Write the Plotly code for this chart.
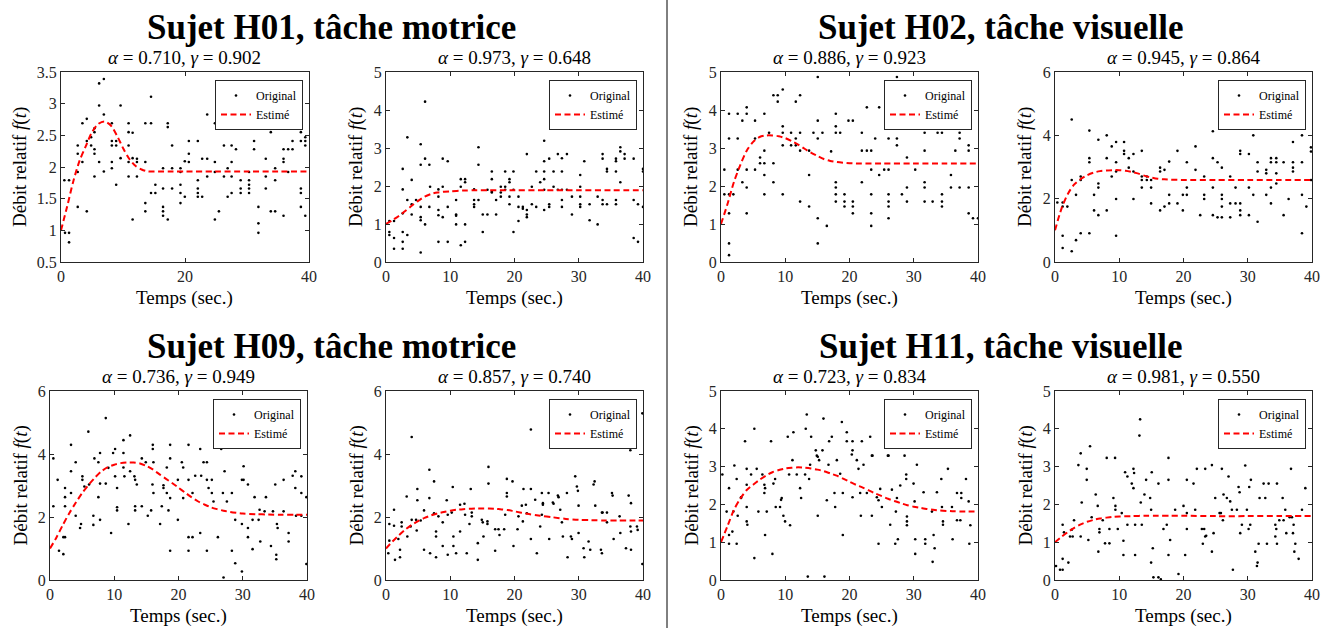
import plotly.graph_objects as go

W, H = 1321, 628
FONT = "Liberation Serif"

# ---------------- data ----------------
group_titles = ["Sujet H01, tâche motrice", "Sujet H02, tâche visuelle",
                "Sujet H09, tâche motrice", "Sujet H11, tâche visuelle"]
alphas = [0.710, 0.973, 0.886, 0.945, 0.736, 0.857, 0.723, 0.981]
gammas = [0.902, 0.648, 0.923, 0.864, 0.949, 0.740, 0.834, 0.550]

pts1 = [(0.54,1.79),(1.30,1.79),(0.65,0.96),(1.30,0.96),(1.30,0.81),
(2.70,1.92),(2.70,2.21),(2.70,2.34),(2.70,1.37),(3.45,2.69),(3.45,2.08),
(4.16,2.76),(4.16,2.41),(4.16,1.30),(4.86,2.47),(4.86,2.34),
(5.40,2.55),(5.40,2.61),(5.40,2.28),(5.40,2.21),(5.40,1.85),
(6.15,3.32),(6.15,2.97),(6.15,2.08),(6.91,3.39),(6.91,2.83),(6.91,1.93),
(8.20,2.69),(8.20,2.41),(8.20,2.34),(8.20,2.08),(8.20,1.98),
(8.90,2.41),(8.90,2.34),(8.90,1.72),(9.61,2.97),(9.61,2.14),
(10.90,2.69),(10.90,2.34),(10.90,2.55),(10.90,2.08),(10.90,1.85),
(11.55,2.54),(11.55,2.14),(11.55,1.17),(12.25,2.13),(12.25,1.85),(12.25,2.08),
(13.60,2.69),(13.60,2.08),(13.60,1.43),(13.60,1.30),(14.52,3.11),(14.52,2.69),(14.52,1.59),
(15.22,1.72),(15.22,1.59),(16.46,1.98),(16.46,1.37),(16.46,1.30),(16.46,1.23),(16.46,1.66),
(17.22,2.69),(17.22,2.63),(17.22,1.17),(17.92,2.34),(17.92,1.98),(17.92,1.66),
(19.27,1.98),(19.27,1.92),(19.27,1.72),(19.27,1.43),(19.27,1.59),(19.97,2.09),(19.97,1.53),
(20.62,2.41),(20.62,2.08),(20.62,2.21),(22.07,2.41),(22.07,1.79),(22.07,1.66),(22.07,1.59),(22.07,1.53),
(22.77,2.13),(22.77,1.53),(23.58,2.83),(23.58,2.13),(23.58,1.85),
(24.82,2.69),(24.82,2.08),(24.82,1.92),(24.82,1.17),(25.47,2.69),(25.47,1.30),
(26.28,2.34),(26.28,1.85),(26.88,1.98),(26.88,1.53),
(27.52,2.34),(27.52,2.08),(27.52,1.85),(27.52,1.59),(28.22,2.83),(28.22,2.28),
(28.98,1.79),(28.98,1.66),(28.98,1.59),
(30.33,1.92),(30.33,1.79),(30.33,1.72),(30.33,1.66),(30.33,1.59),
(31.14,2.62),(31.14,2.41),(31.14,2.28),(31.84,1.37),(31.84,1.11),(31.84,0.96),
(33.03,2.13),(33.03,1.85),(33.03,1.66),(33.84,2.69),(33.84,2.55),(33.84,1.30),
(34.54,1.98),(34.54,1.79),(34.54,1.30),(35.89,2.28),(35.89,2.13),(35.89,2.08),(35.89,1.23),
(36.64,2.28),(36.64,1.92),(37.34,2.41),(37.34,2.28),
(38.69,2.55),(38.69,2.41),(38.69,1.66),(38.69,1.59),(38.69,1.37),
(39.40,2.47),(39.40,2.41),(39.40,2.34),(39.40,1.23)]
curve_t1 = [0,1,2,3,4,5,6,7,8,9,10,11,12,13,14,15,16,18,20,25,30,35,40]
curve_f1 = [1.0,1.38,1.78,2.1,2.33,2.55,2.68,2.72,2.66,2.5,2.3,2.13,2.02,1.96,1.93,1.93,1.93,1.93,1.93,1.93,1.93,1.93,1.93]

pts2 = [(0.52,1.08),(0.52,0.79),(0.52,0.71),(1.25,1.08),(1.25,0.63),(1.25,0.35),
(2.60,2.45),(2.60,1.91),(2.60,1.28),(2.60,0.79),(2.60,0.53),(2.60,0.35),
(3.32,3.28),(3.32,1.63),(3.32,0.71),(4.0,2.16),(4.0,1.52),(4.0,1.25),(4.68,1.63),
(5.40,3.10),(5.40,2.56),(5.40,1.45),(5.40,1.18),(5.40,1.10),(5.40,0.25),
(6.08,4.22),(6.08,2.72),(6.08,0.99),(6.75,2.56),(6.75,1.45),(6.86,1.98),
(8.16,1.91),(8.16,1.72),(8.16,1.37),(8.16,1.23),(8.16,0.53),(8.83,2.72),(8.83,1.98),(8.83,1.18),
(9.61,2.65),(9.61,1.45),(9.61,0.53),(10.91,1.63),(10.91,1.25),(10.91,1.22),(10.91,0.99),
(11.64,2.18),(11.64,1.98),(11.64,0.44),(12.31,2.18),(12.31,2.10),(12.31,0.99),(12.31,0.53),
(13.71,1.91),(13.71,1.63),(13.71,1.52),(13.71,1.45),(14.39,3.02),(14.39,2.56),(14.39,1.63),
(15.06,1.25),(15.06,0.79),(15.79,1.25),(15.79,1.90),
(16.47,2.38),(16.47,2.18),(16.47,1.85),(16.47,1.83),(17.14,1.63),(17.14,1.25),
(17.87,1.98),(17.87,1.83),(17.87,1.72),(18.55,2.38),(18.55,1.98),(18.55,1.90),
(19.22,2.18),(19.22,2.10),(19.22,1.72),(19.22,1.52),(19.84,2.38),(19.84,1.90),(19.84,0.79),
(20.62,1.72),(20.62,1.45),(20.62,1.08),(21.30,1.45),(21.30,1.40),
(21.92,2.84),(21.92,1.37),(21.92,1.25),(21.92,1.18),(22.70,1.98),(22.70,1.52),
(23.38,2.38),(23.38,1.45),(24.0,2.10),
(24.62,3.19),(24.62,2.65),(24.62,2.38),(24.62,2.18),(24.62,1.90),(24.62,1.37),
(25.40,2.72),(25.40,1.52),(25.40,1.45),(26.08,2.38),(26.08,1.98),(26.75,2.84),(26.75,1.90),
(27.38,2.73),(27.38,2.38),(27.38,1.90),(27.38,1.63),(27.38,1.45),(28.16,2.84),(28.16,1.90),
(28.94,1.72),(28.94,1.25),(30.23,2.29),(30.23,1.98),(30.23,1.72),(30.23,1.52),(30.23,1.45),
(30.86,2.65),(31.69,1.52),(31.69,1.10),(32.94,1.72),(32.94,0.99),
(33.71,2.84),(33.71,2.72),(33.71,1.63),(33.71,1.52),(34.39,2.45),(34.39,2.38),(34.39,1.52),
(35.79,2.72),(35.79,2.65),(35.79,2.38),(35.79,1.63),(35.79,1.52),
(36.47,3.02),(36.47,2.91),(36.47,2.10),(37.14,2.84),(37.14,2.72),
(38.55,2.72),(38.55,1.63),(38.55,0.63),(39.22,1.52),(39.22,0.53),
(40.0,2.45),(40.0,2.38),(40.0,1.45)]
curve_t2 = [0,1,2,3,4,5,6,7,8,10,12,14,16,20,25,30,35,40]
curve_f2 = [1.0,1.1,1.21,1.34,1.48,1.61,1.72,1.79,1.83,1.86,1.88,1.89,1.89,1.89,1.89,1.89,1.89,1.89]

pts3 = [(0.52,2.43),(0.52,1.78),(1.25,3.90),(1.25,3.25),(1.25,1.78),(1.25,1.28),(1.25,0.49),(1.25,0.18),
(1.92,1.78),(2.60,3.90),(2.60,3.25),(2.60,2.43),(3.32,3.72),(3.32,2.10),
(4.0,4.07),(4.0,3.90),(4.0,2.43),(4.0,1.96),(4.0,1.28),(5.30,3.72),(5.30,3.25),(5.30,2.43),
(6.08,2.75),(6.08,2.60),(6.75,3.90),(6.75,2.93),(6.75,2.60),(6.75,2.29),(6.75,1.78),
(7.48,3.40),(8.16,2.60),(8.16,2.10),(8.16,4.39),(8.83,4.39),(8.83,4.22),(9.61,4.54),
(9.61,3.57),(9.61,3.40),(9.61,3.07),(9.61,1.78),(10.91,3.40),(10.91,3.07),
(11.64,4.22),(12.31,4.39),(11.64,3.25),(11.64,3.07),(12.31,3.40),(12.31,2.93),(12.31,1.59),
(13.71,2.93),(13.71,2.29),(13.71,1.46),(14.39,3.40),
(15.06,4.87),(15.06,3.72),(15.06,3.25),(15.06,1.15),(15.06,0.49),(15.79,3.40),(16.47,0.95),(17.14,2.91),
(17.87,3.90),(17.87,3.57),(17.87,3.40),(17.87,2.10),(17.87,1.96),(17.87,1.78),(17.87,1.59),
(18.55,3.40),(19.22,1.78),(19.22,1.59),(19.22,1.46),(19.84,3.72),
(20.52,3.72),(20.52,1.59),(20.52,1.46),(20.52,1.28),(21.92,3.40),(21.92,2.93),(21.92,2.10),
(22.70,4.07),(22.70,2.93),(23.38,2.93),(23.38,2.43),(23.38,1.78),(23.38,1.28),(23.38,0.95),
(24.0,3.25),(24.62,4.07),(24.62,2.29),(25.40,2.43),
(26.08,3.25),(26.08,2.43),(26.08,1.78),(26.08,1.59),(26.08,1.46),(26.08,1.15),
(27.38,4.87),(27.38,3.25),(27.38,3.07),(28.16,1.78),(28.94,2.75),(28.94,1.96),(28.94,1.59),
(30.23,3.57),(30.23,2.43),(30.86,3.57),
(31.69,3.57),(31.69,3.40),(31.69,2.93),(31.69,2.10),(31.69,1.96),(31.69,1.59),
(32.94,3.72),(32.94,1.59),(33.71,3.57),(33.71,3.40),
(34.39,3.40),(34.39,1.78),(34.39,1.59),(34.39,1.46),(35.79,2.29),(35.79,1.96),
(36.47,3.90),(36.47,2.93),(37.14,3.40),(37.14,3.25),(37.14,1.96),
(38.55,3.90),(38.55,3.07),(38.55,2.93),(38.55,1.96),(38.55,1.28),(39.22,1.15),(40.0,1.15)]
curve_t3 = [0,1,2,3,4,5,6,7,8,9,10,11,12,13,14,15,16,17,18,20,25,30,35,40]
curve_f3 = [1.0,1.52,2.1,2.55,2.93,3.16,3.29,3.33,3.33,3.31,3.26,3.18,3.09,2.98,2.88,2.79,2.71,2.66,2.63,2.6,2.59,2.59,2.59,2.59]

pts4 = [(0.36,1.88),(1.19,1.88),(1.19,1.75),(1.19,0.83),(1.19,0.44),(1.92,1.75),
(2.60,4.50),(2.60,2.59),(2.60,0.34),(3.27,2.12),(3.27,0.69),(4.0,2.70),(4.0,2.59),(4.0,0.91),
(5.35,4.15),(5.35,3.28),(5.35,3.15),(5.35,0.91),(6.08,2.12),(6.08,1.63),
(6.75,3.86),(6.75,2.48),(6.75,2.35),(6.75,1.48),(8.05,4.0),(8.05,3.28),(8.05,1.63),
(8.83,3.65),(8.83,2.70),(9.51,3.79),(9.51,3.15),(9.51,2.86),(9.51,1.99),(9.51,0.83),
(10.75,3.79),(10.75,3.51),(10.75,3.41),(11.48,3.28),(11.48,2.98),(12.21,3.41),(12.21,2.86),(12.21,1.99),
(13.51,3.51),(13.51,2.70),(13.51,2.59),(13.51,2.35),(14.29,2.70),(14.29,2.59),
(14.96,2.59),(14.96,2.35),(14.96,1.85),(16.36,2.98),(16.36,2.86),(16.36,1.63),
(17.04,2.91),(17.04,1.75),(17.77,3.17),(17.77,2.12),(17.77,1.85),(19.06,3.51),(19.06,1.85),
(19.90,2.12),(19.90,1.63),(20.52,3.15),(20.52,2.35),(20.52,2.12),(21.87,3.65),(21.87,2.91),
(22.60,1.48),(23.22,2.70),(23.22,2.12),(23.22,1.99),
(24.57,4.13),(24.57,3.28),(24.57,2.35),(24.57,1.48),(25.30,3.15),(25.30,1.41),
(25.97,2.98),(25.97,2.12),(25.97,1.99),(25.97,1.75),(25.97,1.41),(27.27,2.70),(27.27,1.85),(27.27,1.41),
(28.10,2.35),(28.10,1.85),(28.83,3.51),(28.83,3.41),(28.83,1.63),(28.83,1.48),(28.83,1.85),
(30.18,3.41),(30.18,2.35),(30.18,1.48),(30.86,4.0),(30.86,2.12),(31.53,3.15),(31.53,2.86),(31.53,1.27),
(32.88,2.91),(32.88,2.80),(32.88,2.12),(33.61,4.71),(33.61,3.28),(33.61,3.15),(33.61,2.35),(33.61,1.85),
(34.44,3.28),(34.44,3.15),(34.44,2.80),(34.44,2.48),(35.58,3.15),(35.58,1.48),(36.36,1.99),
(37.04,3.79),(37.04,3.15),(37.04,2.98),(37.04,2.86),(38.44,4.0),(38.44,3.15),(38.44,0.91),(38.44,2.12),
(39.12,1.75),(39.84,3.62),(39.84,3.49),(39.84,2.59)]
curve_t4 = [0,1,2,3,4,5,6,7,8,9,10,11,12,13,14,15,16,17,18,20,25,30,35,40]
curve_f4 = [1.0,1.68,2.15,2.45,2.62,2.74,2.82,2.87,2.89,2.9,2.9,2.88,2.84,2.79,2.72,2.67,2.63,2.61,2.6,2.59,2.59,2.59,2.59,2.59]

pts5 = [(0.52,3.86),(0.52,2.34),(1.19,3.18),(1.40,0.93),(2.08,0.82),(2.08,1.36),(2.34,1.36),(2.34,2.63),(2.34,2.92),(2.34,2.34),
(3.27,4.29),(3.27,3.45),(3.27,2.76),(4.0,3.74),(4.0,2.04),(4.68,1.65),(4.83,1.78),(5.04,3.29),(5.04,3.18),(5.35,2.97),
(5.97,4.71),(6.08,3.03),(6.75,1.75),(6.75,2.04),(6.91,3.86),(7.53,3.74),(7.53,2.63),(7.79,4.03),(7.79,1.91),(7.79,3.06),
(8.68,5.14),(8.68,3.06),(9.09,3.56),(9.51,1.49),(9.82,4.03),(10.13,4.16),(10.13,3.29),
(10.44,2.31),(10.44,2.21),(10.44,2.92),(11.43,4.44),(11.43,4.03),(11.43,3.57),(11.58,3.29),(12.21,1.78),
(12.47,4.59),(12.47,3.45),(13.14,3.29),(13.25,3.18),(13.25,2.34),(13.25,2.21),(13.51,3.03),
(14.29,3.86),(14.29,2.34),(14.91,3.74),(15.22,2.04),(15.74,2.21),(15.95,3.03),(16.0,4.29),(16.0,4.16),(16.10,3.74),
(16.10,2.76),(17.14,1.78),(17.40,2.34),(17.66,3.01),(17.66,2.92),(18.18,3.57),(18.18,2.76),(18.44,2.21),
(18.70,4.29),(18.70,3.86),(18.70,2.60),(18.70,0.93),(19.90,3.18),(19.90,1.91),(20.52,3.74),
(20.73,2.60),(20.73,3.57),(21.56,4.29),(21.56,3.18),(21.56,1.36),(21.56,0.93),(22.18,2.76),(22.18,1.36),
(22.60,3.31),(23.38,4.16),(23.38,1.49),(23.53,3.31),(23.90,3.74),(24.42,3.74),(24.42,3.18),(24.42,0.93),
(24.68,2.92),(25.19,3.18),(25.19,2.76),(25.45,2.49),(26.13,1.36),(26.65,4.16),(27.17,4.29),(27.17,3.45),
(26.91,2.76),(27.01,0.08),(27.53,2.49),(28.31,2.76),(28.31,0.93),(28.83,1.91),(28.83,0.53),
(29.87,3.18),(30.13,3.18),(29.87,1.78),(29.87,0.27),(30.13,3.61),(30.81,3.03),(30.81,1.65),(30.81,1.36),
(31.53,1.91),(31.53,0.98),(31.84,2.63),(32.47,1.91),(32.62,2.23),(32.73,1.22),(33.40,2.18),(33.61,2.63),
(34.39,1.08),(34.70,2.18),(35.06,3.03),(35.32,1.78),(35.43,1.65),(35.22,0.80),(35.22,0.66),
(36.36,3.18),(36.36,2.18),(37.14,1.49),(37.14,1.22),(37.77,3.31),(38.18,3.45),(38.18,2.92),(38.29,2.04),
(39.12,3.29),(39.12,2.76),(39.12,2.04),(39.90,2.63),(39.90,0.51)]
curve_t5 = [0,1,2,3,4,5,6,7,8,9,10,11,12,13,14,15,16,17,18,19,20,21,22,23,24,25,26,27,28,30,32,34,36,38,40]
curve_f5 = [1.0,1.35,1.75,2.12,2.45,2.76,3.02,3.25,3.45,3.58,3.66,3.71,3.73,3.73,3.70,3.62,3.51,3.36,3.22,3.08,2.93,2.78,2.63,2.5,2.4,2.31,2.25,2.2,2.16,2.11,2.09,2.08,2.07,2.07,2.07]

pts6 = [(0.36,0.85),(0.52,1.78),(0.52,1.25),(1.25,2.23),(1.25,1.72),(1.40,0.64),
(1.92,1.30),(2.18,0.96),(2.18,0.72),(2.44,1.83),(2.44,1.70),(3.22,2.65),(3.32,1.38),
(3.84,1.70),(4.0,4.54),(4.0,1.91),(4.68,1.91),(4.78,1.57),(4.88,2.89),(4.88,2.53),(5.40,1.89),
(5.92,2.21),(5.92,0.96),(6.75,3.50),(6.75,2.60),(6.86,0.85),
(7.48,3.13),(7.48,2.12),(7.79,1.54),(7.79,1.38),(7.79,0.72),(8.16,2.02),(8.83,1.08),(8.83,1.83),
(9.45,2.53),(9.61,2.07),(9.61,0.80),(10.23,2.14),(10.39,2.95),(10.49,1.38),(10.49,1.08),(10.91,0.85),
(11.53,2.39),(11.53,1.54),(12.21,2.42),(12.31,2.07),(12.57,0.85),
(12.99,1.78),(13.19,2.89),(13.35,2.14),(13.35,2.02),(14.29,1.17),(14.29,0.64),
(14.91,1.91),(15.06,1.83),(15.17,1.38),(15.79,1.78),(15.79,1.86),(15.95,3.06),(15.95,3.59),
(16.99,0.93),(16.99,1.61),(17.51,1.61),(17.66,1.43),(18.39,1.61),(18.55,2.07),
(18.81,3.21),(18.81,2.76),(18.81,2.65),(19.69,3.13),(19.84,1.08),(20.47,1.61),(20.62,2.02),
(21.14,2.36),(21.30,1.86),(21.40,2.89),(21.77,2.39),(21.92,2.12),
(22.55,4.78),(22.55,2.89),(22.55,1.30),(23.22,2.55),(23.48,0.85),
(24.0,1.70),(24.26,2.07),(24.26,2.76),(24.42,2.44),(24.42,2.39),(25.30,2.76),(25.40,1.30),
(25.97,2.46),(26.08,2.42),(26.75,2.68),(26.86,2.63),(27.12,2.23),(27.38,1.83),(27.53,1.38),
(28.16,2.76),(28.26,0.72),(28.78,1.38),(28.94,1.30),(29.45,3.29),(29.71,2.97),(29.87,2.83),
(29.97,2.36),(29.97,1.49),(30.75,1.01),(30.86,0.72),(31.53,1.22),(31.79,0.96),
(32.31,3.03),(32.47,3.13),(32.57,2.36),(33.45,0.96),(33.61,0.85),(33.61,2.14),(33.71,2.14),
(34.39,1.83),(34.39,2.14),(35.17,2.76),(35.27,2.68),(35.43,1.30),(36.36,2.02),(36.47,1.49),
(37.35,1.01),(37.77,2.68),(38.03,1.70),(38.03,4.12),(38.13,2.44),(38.13,1.54),(38.13,0.96),
(39.06,1.70),(39.17,1.59),(39.90,0.51),(39.90,5.29)]
curve_t6 = [0,1,2,3,4,5,6,7,8,9,10,11,12,13,14,15,16,17,18,19,20,22,24,26,28,30,32,34,36,38,40]
curve_f6 = [1.0,1.22,1.42,1.6,1.75,1.87,1.97,2.05,2.11,2.16,2.2,2.23,2.25,2.26,2.27,2.27,2.27,2.26,2.24,2.22,2.18,2.1,2.04,1.99,1.94,1.91,1.9,1.89,1.89,1.89,1.89]

pts7 = [(0.21,2.79),(0.88,1.81),(1.25,2.43),(1.25,0.96),(1.25,1.19),
(1.77,1.28),(1.92,1.81),(2.08,3.03),(2.44,2.67),(2.44,0.96),(2.60,1.70),(3.12,2.19),(3.12,2.17),
(3.74,3.67),(4.0,2.94),(4.0,2.52),(4.0,1.93),(4.0,1.55),(4.10,1.46),(4.68,2.79),(5.19,4.0),(5.19,0.58),
(5.56,2.94),(5.82,1.81),(6.44,2.79),(6.75,2.52),(6.86,2.43),(6.75,2.30),(6.86,1.19),(7.12,1.81),
(7.79,3.67),(8.0,0.69),(8.16,2.55),(8.42,2.67),(8.52,1.93),(9.19,1.93),(9.35,2.12),(9.45,2.17),
(9.71,1.70),(9.97,1.55),(10.39,3.79),(10.60,2.79),(10.75,1.45),(11.12,3.17),(11.27,3.91),(11.79,2.79),
(12.31,2.43),(12.47,2.17),(13.09,2.79),(13.19,4.0),(13.35,4.38),(13.71,2.67),(13.87,3.05),(14.03,3.79),
(13.51,0.09),(14.75,3.43),(14.91,3.29),(15.06,3.26),(15.06,1.70),(15.27,3.17),(15.79,3.43),(15.95,4.27),
(16.10,0.09),(16.47,2.11),(16.73,3.05),(16.83,3.67),(17.25,3.79),(17.66,2.30),(17.77,1.93),
(18.03,3.17),(18.55,2.81),(18.81,4.18),(18.96,2.30),(18.96,1.19),(19.58,3.91),(19.58,3.67),
(20.47,3.67),(20.47,3.43),(20.36,3.32),(20.47,2.19),(21.14,3.17),(21.40,2.94),(21.66,2.30),(21.77,1.70),
(21.92,3.67),(22.18,3.05),(22.70,2.30),(23.22,3.79),(23.48,1.70),(23.48,3.29),(23.58,3.29),
(24.26,2.19),(24.52,0.96),(24.52,2.11),(24.78,2.41),(25.04,1.93),(25.97,3.56),(25.97,3.29),(26.08,3.29),
(26.34,1.46),(26.60,2.39),(27.12,0.96),(27.22,1.81),(27.38,2.17),(27.53,1.08),(27.90,2.50),(28.57,3.29),
(28.83,2.79),(28.83,2.67),(28.94,1.68),(28.94,1.55),(28.94,1.45),(29.97,2.55),(30.13,2.08),(30.23,0.69),(30.23,1.08),
(30.49,3.05),(31.53,2.32),(31.79,1.08),(31.79,0.96),(32.83,1.81),(32.94,0.48),(33.09,1.19),(33.25,0.84),
(33.61,2.32),(34.29,2.67),(34.39,1.93),(34.55,1.55),(34.55,1.46),(35.32,2.94),(35.95,1.93),(36.05,1.08),
(36.73,2.30),(36.73,1.58),(37.25,1.58),(37.40,2.30),(37.40,2.17),(37.92,3.67),
(38.13,2.67),(38.55,2.08),(38.65,0.96),(38.81,1.45)]
curve_t7 = [0,1,2,3,4,5,6,7,8,9,10,11,12,13,14,15,16,17,18,19,20,21,22,23,24,25,26,27,28,29,30,31,32,33,34,36,38,40]
curve_f7 = [1.0,1.42,1.85,2.15,2.38,2.52,2.65,2.76,2.85,2.91,2.95,2.97,2.98,2.97,2.95,2.92,2.88,2.82,2.76,2.68,2.6,2.52,2.45,2.37,2.29,2.22,2.15,2.09,2.03,1.98,1.94,1.91,1.88,1.86,1.84,1.82,1.81,1.81]

pts8 = [(0.16,0.37),(0.78,0.27),(1.19,0.56),(1.19,1.46),(1.19,0.27),(1.40,1.26),(2.08,0.46),(2.34,1.15),(2.60,1.33),(2.75,1.15),
(2.96,1.58),(3.64,3.04),(4.0,3.35),(4.0,1.15),(4.16,2.05),(4.94,2.65),(4.94,2.94),(5.19,1.06),(5.45,3.54),(5.71,1.66),
(6.34,2.26),(6.65,1.96),(6.75,0.75),(6.91,1.35),(6.91,1.26),(7.43,1.58),(7.79,0.97),
(8.05,3.23),(8.47,0.97),(8.47,1.35),(9.09,2.17),(9.35,3.23),(9.40,1.96),(9.40,1.86),(9.77,1.35),
(10.39,1.77),(10.65,1.04),(10.65,0.66),(10.91,2.85),(11.27,2.74),(11.27,1.46),
(11.95,2.55),(12.21,2.43),(12.21,2.94),(12.31,2.83),(12.47,0.66),(12.47,1.46),
(13.14,3.82),(13.25,4.25),(13.35,2.05),(13.51,1.46),(13.92,2.26),(14.18,2.65),
(14.81,2.17),(14.96,1.86),(14.96,0.46),(15.06,2.85),(15.22,0.84),(15.32,0.07),(16.10,0.07),(16.10,2.55),
(16.47,0.02),(16.88,1.35),(17.40,1.46),(17.66,3.23),(17.66,2.65),(17.66,0.66),(17.92,1.06),
(18.70,1.86),(19.22,0.16),(20.0,1.96),(20.26,0.66),(20.52,2.65),(20.52,1.35),(20.52,1.77),
(21.56,2.55),(21.82,1.86),(22.08,2.94),(22.86,1.35),(23.01,0.96),(23.22,1.35),(23.38,2.94),(23.38,1.15),
(23.53,1.17),(24.42,0.75),(24.42,3.04),(24.68,1.24),(24.94,2.17),
(25.61,1.77),(25.82,1.77),(25.97,2.94),(26.13,1.58),(26.23,2.26),(26.75,2.17),(27.01,2.74),(27.27,2.08),
(27.53,1.86),(27.69,0.27),(28.31,1.86),(28.57,2.46),(28.73,2.32),(28.83,1.24),(29.09,1.46),
(29.61,3.03),(29.87,1.86),(30.13,1.35),(30.23,2.46),(30.39,1.46),(30.49,2.65),
(31.17,0.75),(31.43,0.37),(31.53,0.46),(31.69,0.96),(31.84,2.17),(32.47,2.55),(32.73,2.17),(32.99,0.96),(33.25,2.55),
(34.29,1.46),(34.29,1.15),(34.44,1.35),(34.55,2.55),(34.55,0.96),(34.91,1.58),(35.43,2.17),(35.58,1.58),
(35.84,1.86),(36.0,1.24),(36.52,1.66),(36.73,2.94),(36.88,1.66),(37.04,1.24),(37.14,1.46),(37.25,0.75),(37.40,0.96),
(37.92,0.56),(38.44,1.86),(38.96,2.43)]
curve_t8 = [0,1,2,3,4,5,6,7,8,9,10,12,14,16,18,20,25,30,35,40]
curve_f8 = [1.0,1.14,1.27,1.38,1.47,1.54,1.59,1.63,1.65,1.67,1.68,1.69,1.70,1.70,1.70,1.70,1.69,1.69,1.69,1.69]

y_ranges = [(0.5, 3.5), (0, 5), (0, 5), (0, 6), (0, 6), (0, 6), (0, 5), (0, 5)]
y_tickvals = [[0.5, 1, 1.5, 2, 2.5, 3, 3.5], [0, 1, 2, 3, 4, 5], [0, 1, 2, 3, 4, 5], [0, 2, 4, 6],
              [0, 2, 4, 6], [0, 2, 4, 6], [0, 1, 2, 3, 4, 5], [0, 1, 2, 3, 4, 5]]
y_ticktext = [["0.5", "1", "1.5", "2", "2.5", "3", "3.5"], ["0", "1", "2", "3", "4", "5"],
              ["0", "1", "2", "3", "4", "5"], ["0", "2", "4", "6"], ["0", "2", "4", "6"],
              ["0", "2", "4", "6"], ["0", "1", "2", "3", "4", "5"], ["0", "1", "2", "3", "4", "5"]]
x_tickvals = [[0, 20, 40]] + [[0, 10, 20, 30, 40]] * 7

all_pts = [pts1, pts2, pts3, pts4, pts5, pts6, pts7, pts8]
all_ct = [curve_t1, curve_t2, curve_t3, curve_t4, curve_t5, curve_t6, curve_t7, curve_t8]
all_cf = [curve_f1, curve_f2, curve_f3, curve_f4, curve_f5, curve_f6, curve_f7, curve_f8]

# ---------------- layout (pixels) ----------------
boxes = [(61, 309, 72, 262), (386, 643, 72, 262), (721, 978, 72, 262), (1055, 1312, 72, 262),
         (50, 307, 391, 580), (386, 643, 391, 580), (721, 978, 391, 580), (1055, 1312, 391, 580)]
ylab_off = [41, 30, 30, 30, 30, 30, 30, 30]
def PX(p): return p / W
def PY(p): return 1 - p / H

fig = go.Figure()
ann = []
layout = dict(width=W, height=H, margin=dict(l=0, r=0, t=0, b=0),
              plot_bgcolor="white", paper_bgcolor="white",
              font=dict(family=FONT, color="#000000"))

axcol = "#262626"
for i in range(8):
    n = i + 1
    sfx = "" if n == 1 else str(n)
    lg = "legend" if n == 1 else f"legend{n}"
    x0, x1, y0, y1 = boxes[i]
    ts = [p[0] for p in all_pts[i]]
    vs = [p[1] for p in all_pts[i]]
    fig.add_trace(go.Scatter(x=ts, y=vs, mode="markers", name="Original",
                             marker=dict(color="black", size=2.6, line=dict(width=0)),
                             xaxis=f"x{sfx}", yaxis=f"y{sfx}", legend=lg))
    fig.add_trace(go.Scatter(x=all_ct[i], y=all_cf[i], mode="lines", name="Estimé",
                             line=dict(color="#ff0000", width=2, dash="6px,3.5px",
                                       shape="spline", smoothing=0.8),
                             xaxis=f"x{sfx}", yaxis=f"y{sfx}", legend=lg))
    common = dict(showline=True, linecolor=axcol, linewidth=1, mirror="ticks", ticks="inside",
                  ticklen=4, tickcolor=axcol, showgrid=False, zeroline=False,
                  tickfont=dict(family=FONT, size=16, color=axcol), automargin=False)
    layout[f"xaxis{sfx}"] = dict(domain=[PX(x0), PX(x1)], range=[0, 40], anchor=f"y{sfx}",
                                 tickvals=x_tickvals[i], ticktext=[str(v) for v in x_tickvals[i]], **common)
    layout[f"yaxis{sfx}"] = dict(domain=[PY(y1), PY(y0)], range=list(y_ranges[i]), anchor=f"x{sfx}",
                                 tickvals=y_tickvals[i], ticktext=y_ticktext[i], **common)
    layout[lg] = dict(x=PX(x1 - 6), y=PY(y0 + 8), xanchor="right", yanchor="top",
                      bgcolor="white", bordercolor=axcol, borderwidth=1,
                      font=dict(family=FONT, size=12, color="black"),
                      itemwidth=30, tracegroupgap=0)
    cx = (x0 + x1) / 2
    ann.append(dict(x=PX(cx), y=PY(y0 - 15), xref="paper", yref="paper", showarrow=False,
                    text=f"<i>α</i> = {alphas[i]:.3f}, <i>γ</i> = {gammas[i]:.3f}",
                    font=dict(family=FONT, size=19, color="black"), xanchor="center", yanchor="middle"))
    ann.append(dict(x=PX(cx), y=PY(y1 + 36), xref="paper", yref="paper", showarrow=False,
                    text="Temps (sec.)", font=dict(family=FONT, size=19, color="black"),
                    xanchor="center", yanchor="middle"))
    ann.append(dict(x=PX(x0 - ylab_off[i]), y=PY((y0 + y1) / 2),
                    xref="paper", yref="paper", showarrow=False, textangle=-90,
                    text="Débit relatif <i>f</i>(<i>t</i>)", font=dict(family=FONT, size=19, color="black"),
                    xanchor="center", yanchor="middle"))

title_pos = [(331, 27), (1001, 27), (331, 346), (1001, 346)]
for k in range(4):
    ann.append(dict(x=PX(title_pos[k][0]), y=PY(title_pos[k][1]), xref="paper", yref="paper",
                    showarrow=False, text=f"<b>{group_titles[k]}</b>",
                    font=dict(family=FONT, size=35, color="black"), xanchor="center", yanchor="middle"))

layout["annotations"] = ann
layout["shapes"] = [dict(type="line", xref="paper", yref="paper", x0=PX(667), x1=PX(667), y0=0, y1=1,
                         line=dict(color="black", width=1))]
fig.update_layout(**layout)
fig.write_html("out.html", config={"displayModeBar": False},
               post_script="document.body.style.margin='0px';document.body.style.overflow='hidden';")
